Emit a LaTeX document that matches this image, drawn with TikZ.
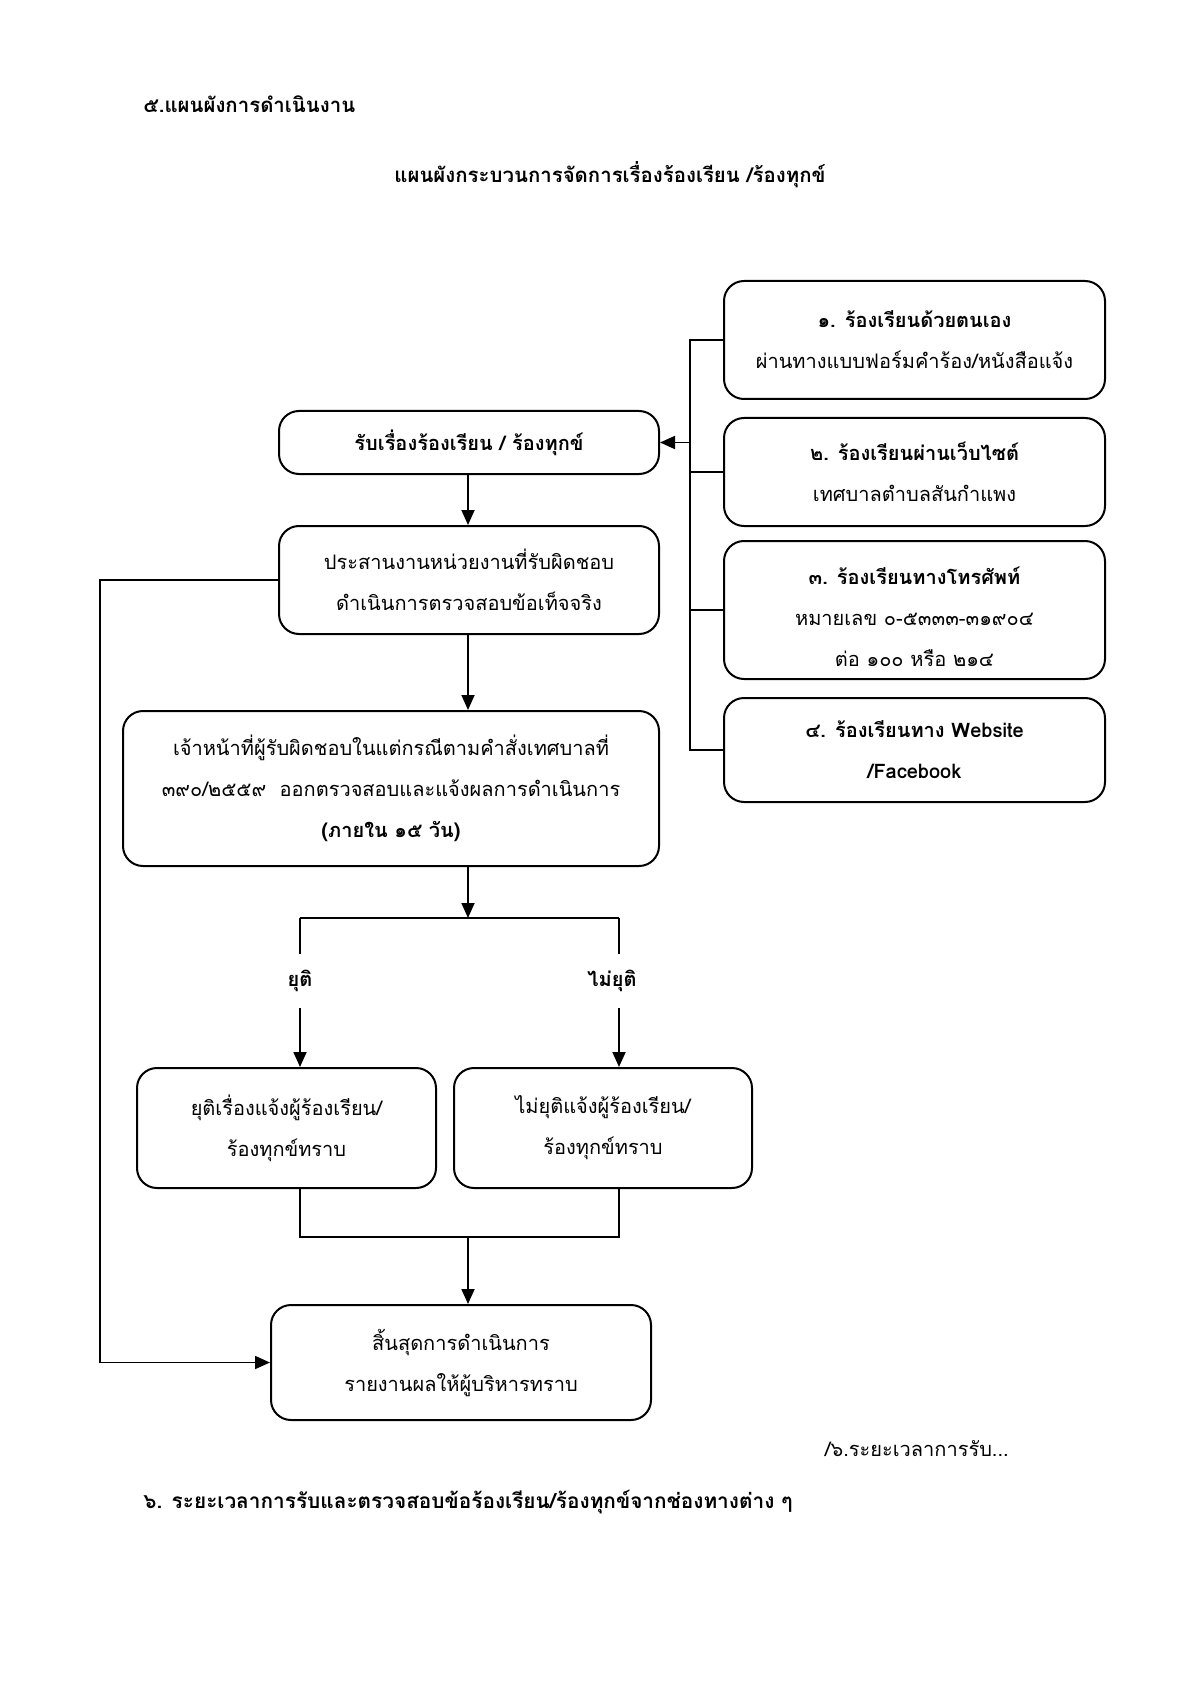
\documentclass[tikz,border=0pt]{standalone}
\usepackage{fontspec}
\setmainfont[Script=Thai]{Loma}
\usetikzlibrary{arrows.meta,calc}
\begin{document}
\begin{tikzpicture}[x=0.5pt,y=-0.5pt,
  box/.style={draw, line width=1pt, rounded corners=10pt, align=center, inner sep=0pt,
              font=\fontsize{10}{20.5}\selectfont},
  conn/.style={line width=0.9pt},
  arr/.style={conn, -{Triangle[length=7.5pt,width=6.5pt]}},
  lbl/.style={font=\fontsize{10}{12}\selectfont\bfseries, minimum height=26.5pt, inner sep=0pt},
  head/.style={font=\fontsize{10.2}{12}\selectfont\bfseries, inner sep=0pt},
  plain/.style={font=\fontsize{10}{12}\selectfont, inner sep=0pt}]
\useasboundingbox (0,0) rectangle (1191,1684);

% headings
\node[head, anchor=west] (h1) at (143,104) {๕.แผนผังการดำเนินงาน};
\node[head] (h2) at (610,175) {แผนผังกระบวนการจัดการเรื่องร้องเรียน /ร้องทุกข์};

% right column
\node[box, minimum width=190.5pt, minimum height=59pt] (r1) at (914.5,340)
  {\textbf{๑. ร้องเรียนด้วยตนเอง}\\ผ่านทางแบบฟอร์มคำร้อง/หนังสือแจ้ง};
\node[box, minimum width=190.5pt, minimum height=54pt] (r2) at (914.5,472)
  {\textbf{๒. ร้องเรียนผ่านเว็บไซต์}\\เทศบาลตำบลสันกำแพง};
\node[box, minimum width=190.5pt, minimum height=69pt] (r3) at (914.5,610)
  {\rule{0pt}{16pt}\textbf{๓. ร้องเรียนทางโทรศัพท์}\\หมายเลข ๐-๕๓๓๓-๓๑๙๐๔\\ต่อ ๑๐๐ หรือ ๒๑๔};
\node[box, minimum width=190.5pt, minimum height=52pt] (r4) at (914.5,750)
  {\textbf{๔. ร้องเรียนทาง Website}\\\textbf{/Facebook}};

% left column
\node[box, minimum width=190pt, minimum height=31.5pt] (A) at (469,442.5)
  {\textbf{รับเรื่องร้องเรียน / ร้องทุกข์}};
\node[box, minimum width=190pt, minimum height=54pt] (B) at (469,580)
  {ประสานงานหน่วยงานที่รับผิดชอบ\\ดำเนินการตรวจสอบข้อเท็จจริง};
\node[box, minimum width=268pt, minimum height=77.5pt] (C) at (391,788.5)
  {เจ้าหน้าที่ผู้รับผิดชอบในแต่กรณีตามคำสั่งเทศบาลที่\\๓๙๐/๒๕๕๙~~ออกตรวจสอบและแจ้งผลการดำเนินการ\\\textbf{(ภายใน ๑๕ วัน)}};
\node[box, minimum width=149.5pt, minimum height=60pt] (D) at (286.5,1128)
  {ยุติเรื่องแจ้งผู้ร้องเรียน/\\ร้องทุกข์ทราบ};
\node[box, minimum width=149pt, minimum height=60pt] (E) at (603,1128)
  {ไม่ยุติแจ้งผู้ร้องเรียน/\\ร้องทุกข์ทราบ};
\node[box, minimum width=190pt, minimum height=57.5pt] (F) at (461,1362.5)
  {สิ้นสุดการดำเนินการ\\รายงานผลให้ผู้บริหารทราบ};

\node[lbl] (l1) at (300,981) {ยุติ};
\node[lbl] (l2) at (612,981) {ไม่ยุติ};

% footer texts
\node[plain, anchor=east] (f1) at (1009,1449) {/๖.ระยะเวลาการรับ...};
\node[head, anchor=west, font=\fontsize{10.4}{12}\selectfont\bfseries] (h3) at (143,1502) {๖. ระยะเวลาการรับและตรวจสอบข้อร้องเรียน/ร้องทุกข์จากช่องทางต่าง ๆ};

% coordinates
\coordinate (bx) at (690,0);
\coordinate (lx) at (100,0);
\coordinate (jL) at (300,918);
\coordinate (jM) at (468,918);
\coordinate (jR) at (619,918);
\coordinate (kL) at (300,1237);
\coordinate (kM) at (468,1237);
\coordinate (kR) at (619,1237);

% right bus
\draw[conn] (r1.west) -- (r1.west -| bx) -- (r4.west -| bx) -- (r4.west);
\draw[conn] (r2.west) -- (r2.west -| bx);
\draw[conn] (r3.west) -- (r3.west -| bx);
\draw[arr] (A.east -| bx) -- (A.east);

% main flow
\draw[arr] (A.south -| jM) -- (B.north -| jM);
\draw[arr] (B.south -| jM) -- (C.north -| jM);
\draw[arr] (C.south -| jM) -- (jM);
\draw[conn] (jL) -- (jR);
\draw[conn] (jL) -- (jL |- l1.north);
\draw[arr] (jL |- l1.south) -- (jL |- D.north);
\draw[conn] (jR) -- (jR |- l2.north);
\draw[arr] (jR |- l2.south) -- (jR |- E.north);
\draw[conn] (jL |- D.south) -- (kL) -- (kR) -- (jR |- E.south);
\draw[arr] (kM) -- (kM |- F.north);

% left loop
\draw[arr] (B.west) -- (B.west -| lx) |- (F.west);
\end{tikzpicture}
\end{document}
